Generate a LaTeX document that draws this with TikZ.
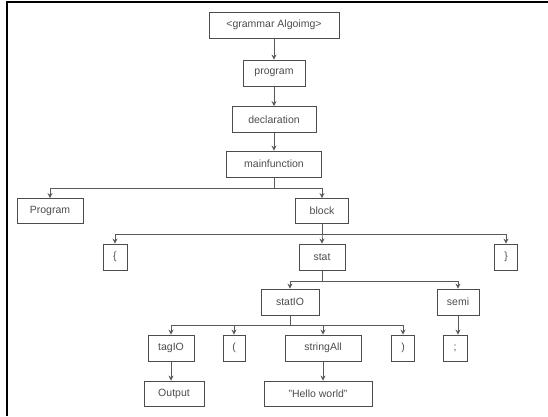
\documentclass[tikz,border=0pt]{standalone}
\usepackage{fontspec}
\setmainfont{Liberation Sans}
\usetikzlibrary{arrows.meta}
\tikzset{
  box/.style={draw=black!70, line width=0.8pt, minimum height=26pt, inner sep=0pt,
    font=\fontsize{10.5}{12}\selectfont, text=black!70},
  conn/.style={draw=black!65, line width=0.9pt, -{Stealth[length=5pt,width=5pt]}},
}
\begin{document}
\begin{tikzpicture}[x=1pt,y=-1pt]
\useasboundingbox (0,0) rectangle (548,416);
\draw[line width=2.5pt] (7,416) -- (7,2) -- (548,2);
\node[box, minimum width=130pt] (gram) at (274,25) {<grammar Algoimg>};
\node[box, minimum width=62pt] (program) at (274,73) {program};
\node[box, minimum width=84pt] (decl) at (274,119.5) {declaration};
\node[box, minimum width=95pt] (main) at (274,164) {mainfunction};
\node[box, minimum width=66pt, minimum height=25pt] (Prog) at (50,211) {Program};
\node[box, minimum width=53pt, minimum height=25pt] (block) at (322,211) {block};
\node[box, minimum width=24pt] (lbrace) at (115,257) {\{};
\node[box, minimum width=46pt] (stat) at (322,257) {stat};
\node[box, minimum width=23pt] (rbrace) at (506,257) {\}};
\node[box, minimum width=58pt] (statIO) at (290,302) {statIO};
\node[box, minimum width=42pt] (semi) at (458,302) {semi};
\node[box, minimum width=46pt] (tagIO) at (171,348) {tagIO};
\node[box, minimum width=22pt] (lpar) at (234,348) {(};
\node[box, minimum width=76pt] (strAll) at (323,348) {stringAll};
\node[box, minimum width=23pt] (rpar) at (403,348) {)};
\node[box, minimum width=24pt] (semic) at (455,348) {;};
\node[box, minimum width=60pt, minimum height=25pt] (out) at (174,393.5) {Output};
\node[box, minimum width=108pt, minimum height=25pt] (hello) at (318,393.5) {"Hello world"};
\draw[conn] (gram) -- (program);
\draw[conn] (program) -- (decl);
\draw[conn] (decl) -- (main);
\draw[conn] (main.south) -- ++(0,11) -| (Prog.north);
\draw[conn] (main.south) -- ++(0,11) -| (block.north);
\draw[conn] (block.south) -- ++(0,11) -| (lbrace.north);
\draw[conn] (block.south) -- ++(0,11) -| (stat.north);
\draw[conn] (block.south) -- ++(0,11) -| (rbrace.north);
\draw[conn] (stat.south) -- ++(0,11) -| (statIO.north);
\draw[conn] (stat.south) -- ++(0,11) -| (semi.north);
\draw[conn] (statIO.south) -- ++(0,10) -| (tagIO.north);
\draw[conn] (statIO.south) -- ++(0,10) -| (lpar.north);
\draw[conn] (statIO.south) -- ++(0,10) -| (strAll.north);
\draw[conn] (statIO.south) -- ++(0,10) -| (rpar.north);
\draw[conn] (semi.south) -- (semi.south |- semic.north);
\draw[conn] (tagIO.south) -- (tagIO.south |- out.north);
\draw[conn] (strAll.south) -- (strAll.south |- hello.north);
\end{tikzpicture}
\end{document}
